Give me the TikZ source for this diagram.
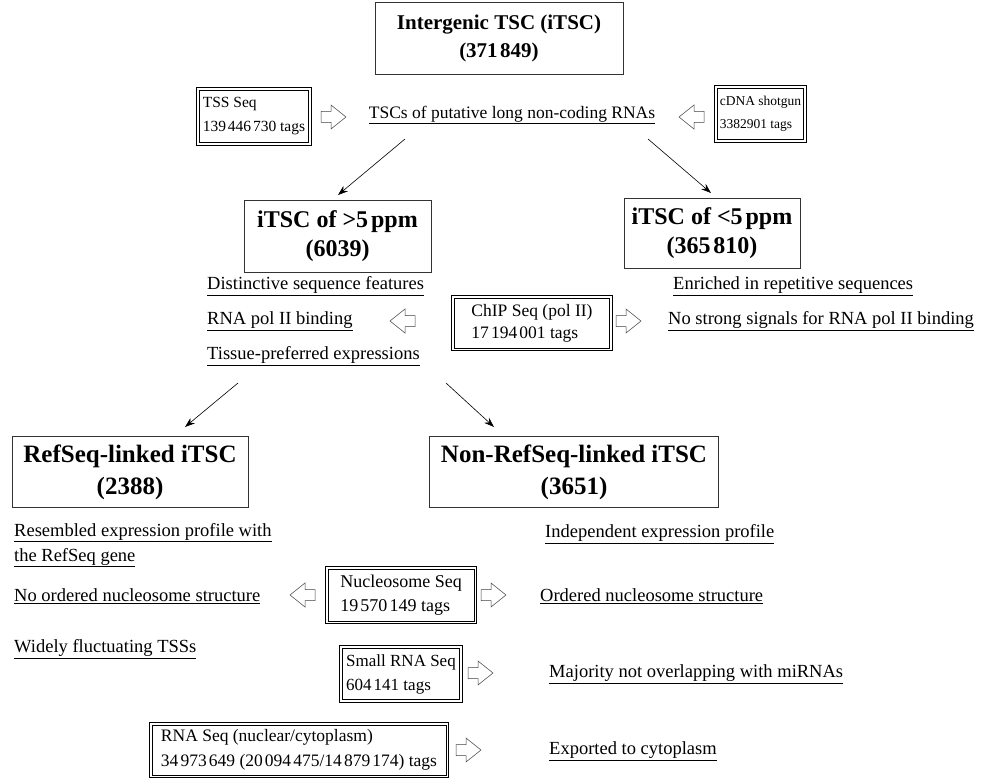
\documentclass[tikz,border=0pt]{standalone}
\usepackage{fontspec}
\setmainfont{Liberation Serif}
\usetikzlibrary{arrows.meta}
\newcommand{\ulx}[1]{\underline{#1}}
\newcommand{\gs}{\kern0.12em}
\begin{document}
\begin{tikzpicture}[x=1pt,y=-1pt,
  title/.style={draw=black!80, line width=0.6pt, align=center, inner sep=0pt},
  seqbox/.style={draw=black, line width=0.5pt, align=left, inner sep=0pt,
    append after command={\pgfextra{\draw[line width=0.9pt] ([shift={(-2.4pt,2.4pt)}]\tikzlastnode.north west) rectangle ([shift={(2.4pt,-2.4pt)}]\tikzlastnode.south east);}}},
  lbl/.style={font=\fontsize{18.5}{25}\selectfont, inner sep=0pt, anchor=west},
  lblc/.style={font=\fontsize{17.5}{21}\selectfont, inner sep=0pt},
  conn/.style={-{Stealth[length=10pt,width=7pt]}, line width=0.6pt},
  hollow/.style={draw=black!75, line width=0.5pt, fill=white}
]
\useasboundingbox (0,0) rectangle (981,778);
\newcommand{\rarrow}[2]{\draw[hollow] (#1,#2) ++(0,-5.5) -- ++(10,0) -- ++(0,-6.5) -- ++(15,12) -- ++(-15,12) -- ++(0,-6.5) -- ++(-10,0) -- cycle;}
\newcommand{\larrow}[2]{\draw[hollow] (#1,#2) ++(0,-5.5) -- ++(-10,0) -- ++(0,-6.5) -- ++(-15,12) -- ++(15,12) -- ++(0,-6.5) -- ++(10,0) -- cycle;}

% top
\node[title, minimum width=248pt, minimum height=72pt, font=\fontsize{21}{28}\selectfont\bfseries] (top) at (499,38) {Intergenic TSC (iTSC)\\(371\gs849)};
\node[seqbox, minimum width=109pt, minimum height=52pt, font=\fontsize{15.5}{24}\selectfont] (tss) at (254,116.5) {TSS Seq\\139\gs446\gs730 tags};
\node[seqbox, minimum width=86pt, minimum height=51pt, font=\fontsize{13.5}{23}\selectfont] (cdna) at (760.5,114) {cDNA shotgun\\3382901 tags};
\node[lblc] (tscs) at (512,115) {\ulx{TSCs of putative long non-coding RNAs}};
\rarrow{321}{117}
\larrow{704}{117}

% level 2
\node[title, minimum width=187pt, minimum height=72pt, font=\fontsize{24}{29}\selectfont\bfseries] (hi) at (337.5,236) {iTSC of >5\gs ppm\\(6039)};
\node[title, minimum width=176pt, minimum height=70pt, font=\fontsize{24}{29}\selectfont\bfseries] (lo) at (712,233) {iTSC of <5\gs ppm\\(365\gs810)};
\coordinate (a1s) at (405,139);
\coordinate (a1e) at (338,195);
\coordinate (a2s) at (648,139);
\coordinate (a2e) at (711,193);
\draw[conn] (a1s) -- (a1e);
\draw[conn] (a2s) -- (a2e);

\node[lbl] (d1) at (207,286) {\ulx{Distinctive sequence features}};
\node[lbl] (d2) at (207,321) {\ulx{RNA pol II binding}};
\node[lbl] (d3) at (207,356) {\ulx{Tissue-preferred expressions}};
\node[seqbox, minimum width=155pt, minimum height=50pt, font=\fontsize{17.5}{22}\selectfont] (chip) at (532,323) {ChIP Seq (pol II)\\17\gs194\gs001 tags};
\larrow{415}{321}
\rarrow{616}{321}
\node[lbl] (e1) at (673,286) {\ulx{Enriched in repetitive sequences}};
\node[lbl] (e2) at (668,321) {\ulx{No strong signals for RNA pol II binding}};

% level 3
\node[title, minimum width=236pt, minimum height=71pt, font=\fontsize{25}{32}\selectfont\bfseries] (ref) at (130,472) {RefSeq-linked iTSC\\(2388)};
\node[title, minimum width=289pt, minimum height=71pt, font=\fontsize{25}{32}\selectfont\bfseries] (nonref) at (574,472) {Non-RefSeq-linked iTSC\\(3651)};
\coordinate (b1s) at (238,383);
\coordinate (b1e) at (185,427);
\coordinate (b2s) at (446,383);
\coordinate (b2e) at (494,427);
\draw[conn] (b1s) -- (b1e);
\draw[conn] (b2s) -- (b2e);

\node[lbl, align=left] (r1) at (14,545) {\ulx{Resembled expression profile with}\\\ulx{the RefSeq gene}};
\node[lbl] (n1) at (545,534) {\ulx{Independent expression profile}};

\node[lbl] (r2) at (14,596) {\ulx{No ordered nucleosome structure}};
\node[seqbox, minimum width=146pt, minimum height=52pt, font=\fontsize{18}{24}\selectfont] (nuc) at (401,595) {Nucleosome Seq\\19\gs570\gs149 tags};
\larrow{315}{595}
\rarrow{481}{595}
\node[lbl] (n2) at (540,596) {\ulx{Ordered nucleosome structure}};

\node[lbl] (r3) at (14,649) {\ulx{Widely fluctuating TSSs}};
\node[seqbox, minimum width=117pt, minimum height=51pt, font=\fontsize{17}{24}\selectfont] (small) at (401,674) {Small RNA Seq\\604\gs141 tags};
\rarrow{468}{673}
\node[lbl] (n3) at (549,674) {\ulx{Majority not overlapping with miRNAs}};

\node[seqbox, minimum width=294pt, minimum height=50pt, font=\fontsize{17.5}{25}\selectfont] (rna) at (299,750) {RNA Seq (nuclear/cytoplasm)\\34\gs973\gs649 (20\gs094\gs475/14\gs879\gs174) tags};
\rarrow{456}{750}
\node[lbl] (n4) at (549,751) {\ulx{Exported to cytoplasm}};
\end{tikzpicture}
\end{document}
